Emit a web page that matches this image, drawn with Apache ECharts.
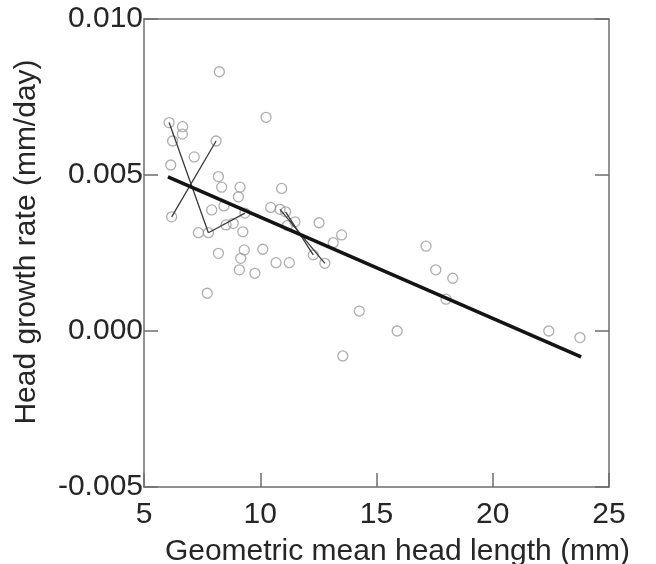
<!DOCTYPE html>
<html>
<head>
<meta charset="utf-8">
<script src="https://cdn.jsdelivr.net/npm/echarts@6/dist/echarts.min.js"></script>
<style>
html,body{margin:0;padding:0;background:#fff;}
#chart{width:656px;height:564px;}
</style>
</head>
<body>
<div id="chart"></div>
<script>
// Observed data (geometric mean head length in mm, head growth rate in mm/day)
var headLength = [8.24,10.25,6.08,6.66,6.65,6.23,8.10,7.16,6.15,8.20,8.34,9.13,9.06,7.91,8.44,9.34,6.19,7.34,7.77,8.53,8.84,9.25,8.20,9.31,9.16,9.10,9.77,7.72,10.92,10.45,10.85,11.09,11.49,12.53,11.17,10.11,10.68,11.25,12.28,12.78,13.14,13.50,17.13,17.55,18.28,17.99,14.26,15.89,13.55,22.41,23.75];
var growthRate = [0.00831,0.00685,0.00668,0.00655,0.00631,0.00609,0.00609,0.00558,0.00532,0.00495,0.00461,0.00461,0.00430,0.00388,0.00401,0.00378,0.00366,0.00315,0.00315,0.00340,0.00345,0.00318,0.00249,0.00260,0.00233,0.00196,0.00185,0.00121,0.00457,0.00396,0.00390,0.00382,0.00350,0.00347,0.00338,0.00262,0.00219,0.00219,0.00244,0.00217,0.00283,0.00308,0.00272,0.00196,0.00169,0.00102,0.00064,0.00000,-0.00080,0.00000,-0.00021];
// Fitted regression line
var fitX = [6.03, 23.80];
var fitY = [0.00494, -0.00083];
// Thin connecting segments
var segA = [[6.08,0.00668],[7.77,0.00315]];
var segB = [[8.10,0.00609],[6.19,0.00366]];
var segC = [[7.77,0.00315],[9.34,0.00378]];
var segD = [[10.85,0.00390],[12.78,0.00217]];
var segE = [[11.09,0.00382],[12.28,0.00244]];
// Axis ticks
var xTicks = [5,10,15,20,25];
var yTicks = [-0.005,0.000,0.005,0.010];

var FONT = 'Liberation Sans, Arial, sans-serif';
var AX = '#6e6e6e';
var TXT = '#262626';

var pts = headLength.map(function(x,i){return [x, growthRate[i]];});
var fit = fitX.map(function(x,i){return [x, fitY[i]];});

function seg(d){
  return {type:'line', data:d, symbol:'none', silent:true, z:3,
    lineStyle:{color:'#3a3a3a', width:1.3}};
}

var chart = echarts.init(document.getElementById('chart'), null, {renderer:'canvas'});
chart.setOption({
  animation:false,
  backgroundColor:'#fff',
  grid:{left:144, top:19, right:47, bottom:77, containLabel:false, outerBoundsMode:'none'},
  xAxis:[{
    type:'value', min:xTicks[0], max:xTicks[xTicks.length-1], interval:5,
    name:'Geometric mean head length (mm)', nameLocation:'middle', nameGap:50,
    nameTextStyle:{fontFamily:FONT, fontSize:30, color:TXT, padding:[0,0,0,42]},
    axisLine:{show:true, onZero:false, lineStyle:{color:AX, width:1.5}},
    axisTick:{show:true, inside:true, length:14, lineStyle:{color:AX, width:1.5}},
    axisLabel:{fontFamily:FONT, fontSize:30, color:TXT, margin:13},
    splitLine:{show:false}
  },{
    type:'value', position:'top', min:xTicks[0], max:xTicks[xTicks.length-1], interval:5,
    axisLine:{show:true, onZero:false, lineStyle:{color:AX, width:1.5}},
    axisTick:{show:false}, axisLabel:{show:false}, splitLine:{show:false}
  }],
  yAxis:[{
    type:'value', min:yTicks[0], max:yTicks[yTicks.length-1], interval:0.005,
    name:'Head growth rate (mm/day)', nameLocation:'middle', nameGap:102, nameRotate:90,
    nameTextStyle:{fontFamily:FONT, fontSize:30, color:TXT, padding:[0,0,0,22]},
    axisLine:{show:true, onZero:false, lineStyle:{color:AX, width:1.5}},
    axisTick:{show:true, inside:true, length:14, lineStyle:{color:AX, width:1.5}},
    axisLabel:{fontFamily:FONT, fontSize:30, color:TXT, margin:1,
      formatter:function(v){return v.toFixed(3);}},
    splitLine:{show:false}
  },{
    type:'value', position:'right', min:yTicks[0], max:yTicks[yTicks.length-1], interval:0.005,
    axisLine:{show:true, onZero:false, lineStyle:{color:AX, width:1.5}},
    axisTick:{show:true, inside:true, length:14, lineStyle:{color:AX, width:1.5}},
    axisLabel:{show:false}, splitLine:{show:false}
  }],
  series:[
    {type:'scatter', data:pts, symbol:'circle', symbolSize:10, silent:true, z:2,
      itemStyle:{color:'rgba(255,255,255,0)', borderColor:'#9a9a9a', borderWidth:1.3}},
    seg(segA), seg(segB), seg(segC), seg(segD), seg(segE),
    {type:'line', data:fit, symbol:'none', silent:true, z:4,
      lineStyle:{color:'#141414', width:3.6}}
  ]
});
</script>
</body>
</html>
